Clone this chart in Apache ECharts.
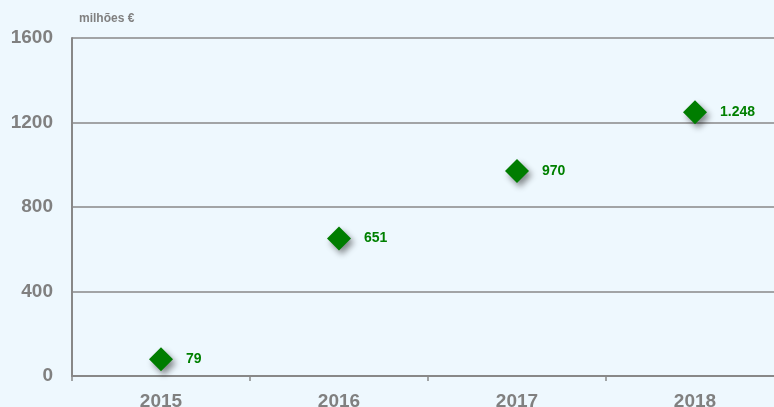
<!DOCTYPE html>
<html><head><meta charset="utf-8">
<script src="https://cdn.jsdelivr.net/npm/echarts@6/dist/echarts.min.js"></script>
<style>html,body{margin:0;padding:0;background:#EEF8FE;}#c{width:774px;height:407px;}</style>
</head><body><div id="c"></div>
<script>
const categories = ['2015', '2016', '2017', '2018'];
const values = [79, 651, 970, 1248];
const valueLabels = ['79', '651', '970', '1.248'];
const unitLabel = 'milhões €';

const chart = echarts.init(document.getElementById('c'));
chart.setOption({
  backgroundColor: '#EEF8FE',
  animation: false,
  grid: { left: 72, right: -10, top: 38, bottom: 31, outerBoundsMode: 'none' },
  graphic: [{ type: 'text', left: 79, top: 13, style: { text: unitLabel, font: 'bold 12px "Liberation Sans", Arial, sans-serif', fill: '#808080' } }],
  xAxis: {
    type: 'category', data: categories, boundaryGap: true,
    axisLine: { lineStyle: { color: '#888888', width: 2 } },
    axisTick: { show: true, length: 5, lineStyle: { color: '#888888', width: 1.5 } },
    axisLabel: { color: '#808080', fontWeight: 'bold', fontSize: 19, fontFamily: '"Liberation Sans", Arial, sans-serif', margin: 16 }
  },
  yAxis: {
    type: 'value', min: 0, max: 1600, interval: 400,
    axisLine: { show: true, lineStyle: { color: '#888888', width: 2 } },
    axisTick: { show: false },
    splitLine: { lineStyle: { color: '#888888', width: 1.5 } },
    axisLabel: { color: '#808080', fontWeight: 'bold', fontSize: 19, fontFamily: '"Liberation Sans", Arial, sans-serif', margin: 19, formatter: v => String(v) }
  },
  series: [{
    type: 'scatter',
    data: values,
    symbol: 'diamond', symbolSize: [24, 24],
    itemStyle: { color: '#007D00', opacity: 1, shadowColor: 'rgba(0,0,0,0.45)', shadowBlur: 6, shadowOffsetX: 3, shadowOffsetY: 4 },
    label: {
      show: true, position: 'right', distance: 13,
      formatter: p => valueLabels[p.dataIndex],
      color: '#008000', fontWeight: 'bold', fontSize: 14, fontFamily: '"Liberation Sans", Arial, sans-serif'
    }
  }]
});
</script></body></html>
